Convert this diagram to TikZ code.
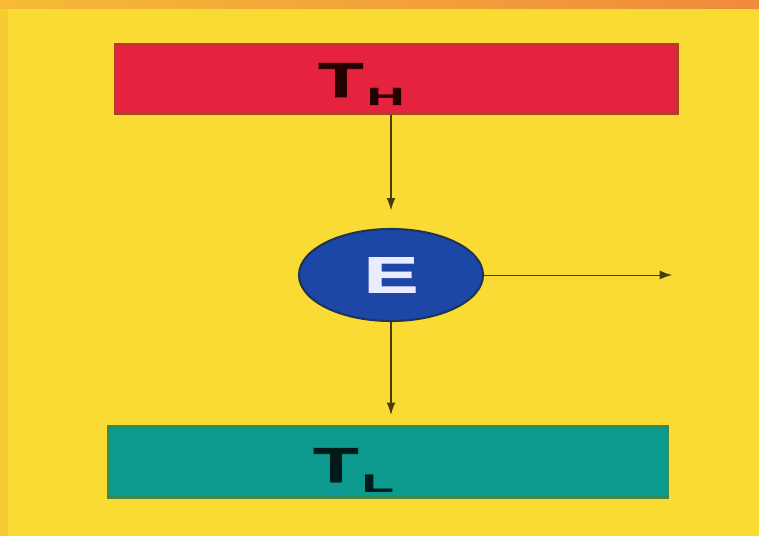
\documentclass[tikz,border=0pt]{standalone}
\usepackage{fontspec}
\usepackage{graphicx}
\setmainfont{Liberation Sans}[BoldFeatures={FakeBold=1.5}]
\usetikzlibrary{positioning,shapes.geometric,arrows.meta}

\definecolor{bgyellow}{HTML}{FADB33}
\definecolor{bandorange}{HTML}{F08A3C}
\definecolor{hotred}{HTML}{E5233F}
\definecolor{redrim}{HTML}{B83A2A}
\definecolor{seateal}{HTML}{0C9A8E}
\definecolor{tealrim}{HTML}{3E8A4E}
\definecolor{engblue}{HTML}{1C47A6}
\definecolor{bluerim}{HTML}{1E3558}
\definecolor{flowline}{HTML}{4A3C05}

\newcommand{\bigT}{\fontsize{28}{28}\bfseries\scalebox{1.5}[1]{T}}
\newcommand{\lowsub}[2]{\raisebox{#1}{\fontsize{14}{14}\bfseries\scalebox{2.1}[1]{#2}}}

\begin{document}
\begin{tikzpicture}[x=0.02cm, y=-0.02cm, >={Latex[length=7pt,width=5pt]}]
    % background
    \fill[bgyellow] (0,0) rectangle (759,536);
    \shade[left color=bandorange!40!bgyellow, right color=bandorange] (0,0) rectangle (759,9);
    \fill[bandorange!20!bgyellow] (0,9) rectangle (8,536);
    \useasboundingbox (0,0) rectangle (759,536);

    % reservoirs and engine
    \node[rectangle, draw=redrim, very thick, fill=hotred, minimum width=11.26cm, minimum height=1.38cm] (TH) at (396,79) {};
    \node[rectangle, draw=tealrim, very thick, fill=seateal, minimum width=11.2cm, minimum height=1.42cm] (TL) at (388,462) {};
    \node[ellipse, draw=bluerim, very thick, fill=engblue, minimum width=3.68cm, minimum height=1.84cm] (E) at (391,275) {};

    % labels
    \node[text=black!85!red, inner sep=0pt, anchor=base west] (THlbl) at (318,97) {\bigT\hspace{2pt}\lowsub{-4.5pt}{H}};
    \node[text=black!80!teal, inner sep=0pt, anchor=base west] (TLlbl) at (313,482) {\bigT\hspace{2pt}\lowsub{-5.5pt}{L}};
    \node[text=white!92!blue, inner sep=0pt] (Elbl) at (E.center) {\fontsize{29}{29}\bfseries\scalebox{1.6}[1]{E}};

    % heat flows
    \coordinate (Wout) at (672,275);
    \draw[->, thick, flowline, shorten >=10pt] (E.north |- TH.south) -- (E.north);
    \draw[->, thick, flowline, shorten >=6pt] (E.south) -- (E.south |- TL.north);
    \draw[->, flowline] (E.east) -- (Wout);
\end{tikzpicture}
\end{document}
